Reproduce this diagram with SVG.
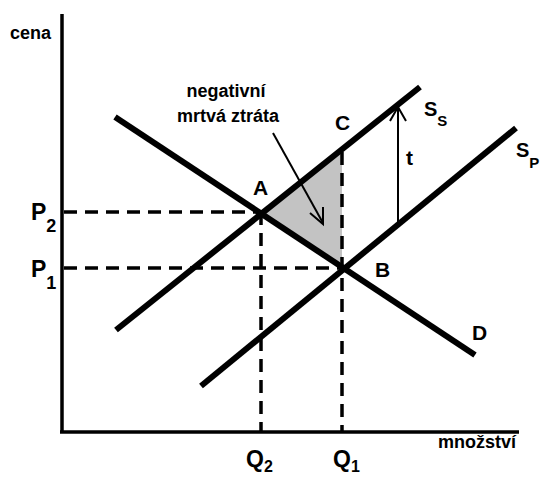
<svg xmlns="http://www.w3.org/2000/svg" width="542" height="477" viewBox="0 0 542 477">
<defs>
<style>
.t{font-family:"Liberation Sans",Arial,sans-serif;font-weight:bold;fill:#000}
.lbl{font-size:21px}
.big{font-size:23px}
.sm{font-size:18px}
.sub{font-size:15px}
.ax{stroke:#000;stroke-width:3.5;fill:none}
.cur{stroke:#000;stroke-width:6;fill:none;stroke-linecap:butt}
.dash{stroke:#000;stroke-width:3.5;stroke-dasharray:13 8;fill:none}
.thin{stroke:#000;stroke-width:2;fill:none}
</style>
</defs>
<rect width="542" height="477" fill="#fff"/>
<g id="area"><polygon points="261,212 342,149 342,268" fill="#c3c3c3"/></g>
<g id="axes">
<line class="ax" x1="62" y1="14" x2="62" y2="432"/>
<line class="ax" x1="60" y1="432" x2="519" y2="432"/>
<text class="t sm" x="10" y="39">cena</text>
<text class="t sm" x="438" y="448">množství</text>
</g>
<g id="guides">
<line class="dash" x1="64" y1="212" x2="261" y2="212"/>
<line class="dash" x1="64" y1="268" x2="342" y2="268"/>
<line class="dash" x1="261" y1="212" x2="261" y2="432"/>
<line class="dash" x1="342" y1="152" x2="342" y2="432"/>
</g>
<g id="curves">
<line id="D" class="cur" x1="115" y1="117" x2="475" y2="355"/>
<line id="Ss" class="cur" x1="116" y1="330" x2="420" y2="87"/>
<line id="Sp" class="cur" x1="201" y1="386" x2="516" y2="128"/>
</g>
<g id="arrows">
<line class="thin" x1="398" y1="224" x2="398" y2="108"/>
<polyline class="thin" points="390,121 398,107 406,121"/>
<line class="thin" x1="273" y1="133" x2="323" y2="223"/>
<polyline class="thin" points="310,213 323,224 323,207"/>
</g>
<g id="labels">
<text class="t sm" x="226" y="97" text-anchor="middle">negativní</text>
<text class="t sm" x="228" y="122" text-anchor="middle">mrtvá ztráta</text>
<text class="t lbl" x="253" y="195">A</text>
<text class="t lbl" x="335" y="130">C</text>
<text class="t lbl" x="375" y="277">B</text>
<text class="t lbl" x="472" y="340">D</text>
<text class="t lbl" x="406" y="165">t</text>
<text class="t" font-size="20" x="424" y="116">S<tspan class="sub" dy="10">S</tspan></text>
<text class="t" font-size="20" x="516" y="157">S<tspan class="sub" dy="11">P</tspan></text>
<text class="t big" x="31" y="220">P<tspan font-size="18" dy="12">2</tspan></text>
<text class="t big" x="31" y="277">P<tspan font-size="18" dy="12">1</tspan></text>
<text class="t big" x="246" y="467">Q<tspan font-size="16" dy="5">2</tspan></text>
<text class="t big" x="333" y="467">Q<tspan font-size="16" dy="5">1</tspan></text>
</g>
</svg>
